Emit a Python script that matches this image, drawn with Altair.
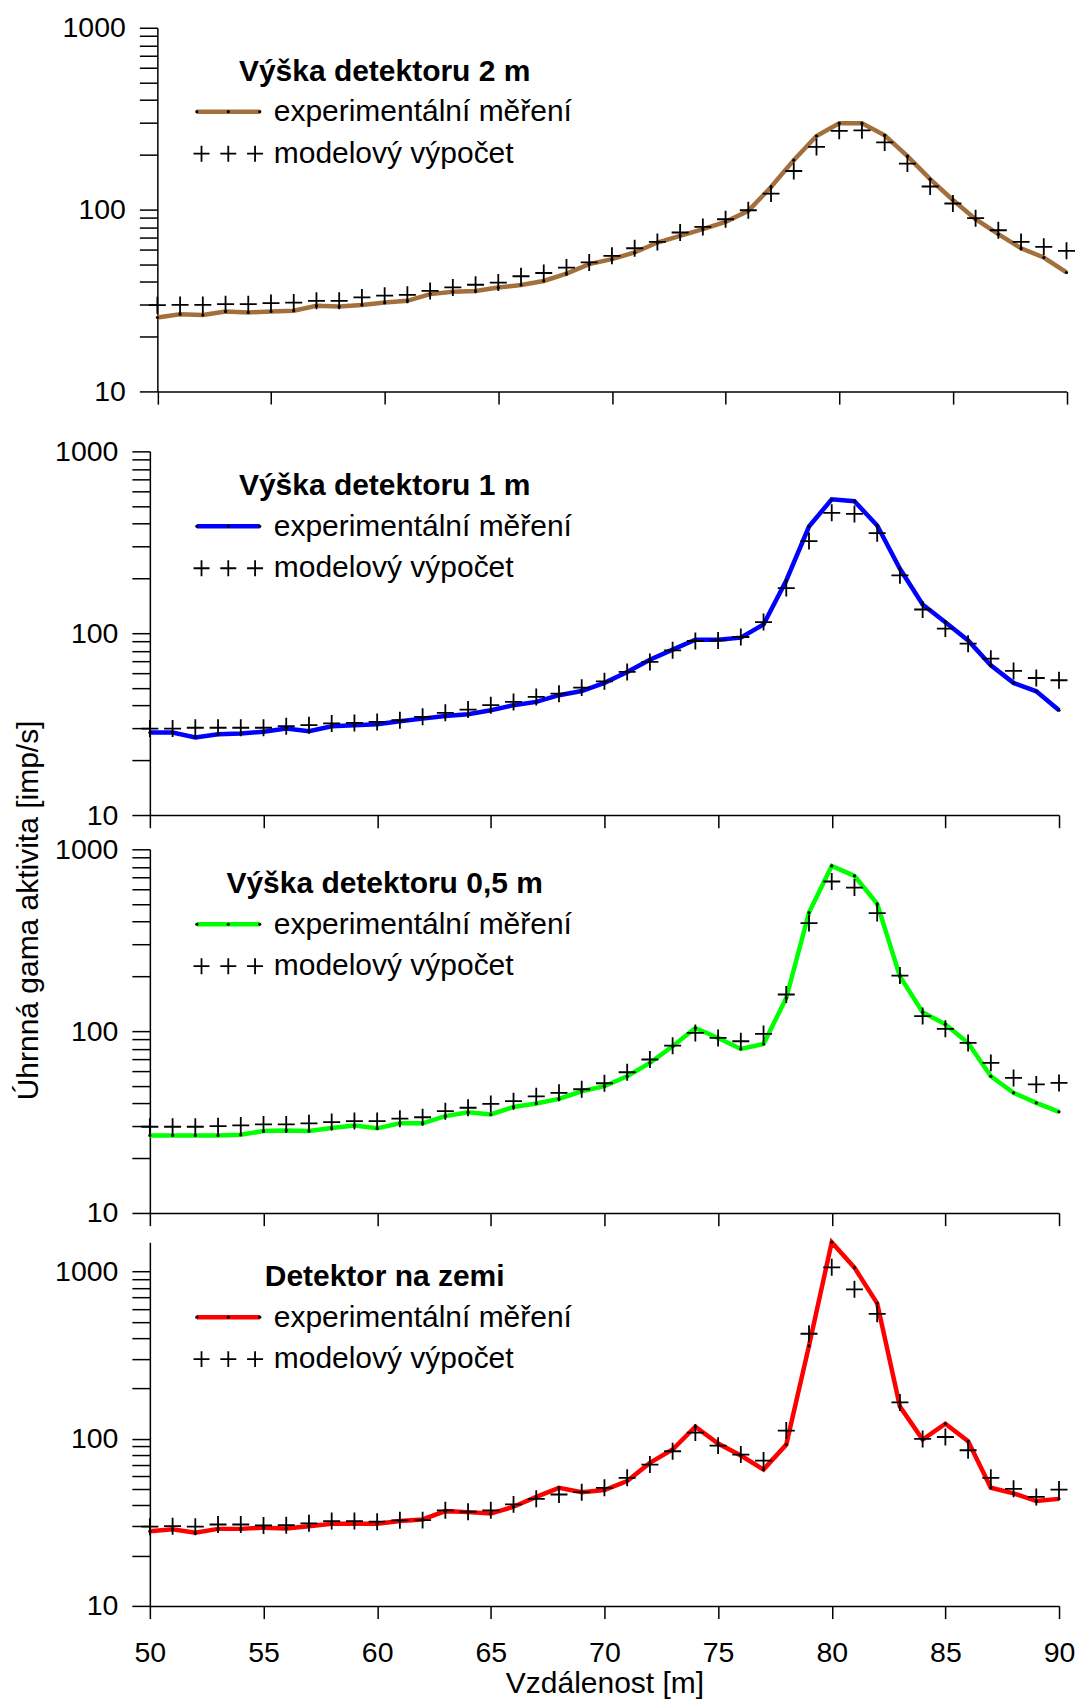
import altair as alt
import pandas as pd

FONT = "Liberation Sans"

distance = list(range(50, 91))

exp_2m = [25.5, 26.6, 26.3, 27.5, 27.2, 27.5, 27.8, 29.6, 29.3, 29.9, 30.8, 31.5, 34.3, 35.3, 35.7, 37.3,
          38.5, 40.5, 44.5, 50.1, 53.4, 58.1, 65.9, 71.7, 78.0, 85.6, 98.4, 133, 187, 254, 298, 298,
          256, 197, 147, 113, 88.5, 73.2, 61.3, 54.5, 45.1]
mod_2m = [29.8, 29.9, 29.9, 30.2, 30.2, 30.6, 30.8, 31.5, 31.5, 32.9, 33.6, 34.0, 35.7, 37.3, 38.6, 39.7,
          43.0, 44.8, 48.0, 51.2, 55.7, 61.3, 66.4, 74.8, 80.3, 88.5, 99.2, 122.5, 163, 221, 271, 273,
          234, 179, 134, 108, 89.7, 77, 66.4, 62.4, 59.3]

exp_1m = [28.4, 28.4, 26.7, 27.8, 28.1, 28.7, 29.9, 28.9, 30.8, 31.2, 31.6, 32.8, 33.9, 35.0, 35.8, 37.7,
          40.2, 41.9, 45.6, 48.1, 53.3, 61.2, 71.5, 81.2, 92.1, 92.1, 94.5, 111.8, 195, 386, 545, 532,
          391, 226, 144, 115, 91.3, 66.6, 53.3, 47.9, 37.7]
mod_1m = [29.9, 29.9, 30.2, 30.2, 30.2, 30.2, 30.8, 31.2, 31.9, 32.1, 32.5, 33.2, 34.7, 36.5, 38.0, 40.2,
          41.9, 44.6, 46.5, 50.2, 54.4, 61.2, 69.5, 80.5, 90.6, 91.3, 95.3, 115.2, 177, 321, 459, 453,
          355, 208, 135, 106, 87.6, 72.4, 62, 56.7, 55.1]

exp_05m = [26.7, 26.7, 26.7, 26.7, 26.9, 28.2, 28.4, 28.2, 29.3, 30.3, 29.2, 31.1, 31.1, 34.1, 35.8, 34.8,
           38.3, 40.0, 42.4, 46.7, 49.8, 56.5, 66.9, 82.5, 104, 91.7, 79.8, 85.0, 152, 449, 810, 714,
           501, 200, 127, 109, 86.1, 56.5, 45.8, 40.3, 36.0]
mod_05m = [29.8, 29.8, 29.8, 30.0, 30.3, 30.7, 30.7, 31.1, 31.6, 32.0, 32.0, 33.0, 33.6, 36.3, 37.9, 39.8,
           41.2, 43.8, 45.8, 47.9, 51.7, 59.4, 69.8, 83.2, 97.7, 91.7, 88.0, 96.5, 159, 393, 665, 616,
           446, 202, 121, 103, 86.1, 66.9, 55.3, 50.9, 51.9]

exp_0m = [28.0, 28.7, 27.4, 28.9, 28.9, 29.4, 29.1, 30.0, 31.0, 31.0, 31.0, 32.2, 32.9, 36.9, 36.4, 35.7,
          39.2, 44.9, 50.9, 47.9, 49.3, 55.8, 71.7, 86.2, 118, 93.6, 79.4, 65.5, 92.3, 360, 1500, 1057,
          647, 156, 98.9, 123, 96.6, 50.9, 47.1, 42.4, 43.7]
mod_0m = [29.8, 30.0, 29.8, 30.7, 30.7, 30.3, 30.4, 31.2, 32.2, 32.2, 31.9, 32.5, 32.6, 37.3, 36.6, 37.3,
          40.5, 43.7, 46.4, 47.9, 50.9, 58.4, 70.1, 84.2, 109, 91.0, 80.4, 74.1, 112, 425, 1061, 784,
          559, 165, 99.8, 102.5, 85.4, 58.4, 50.2, 44.9, 49.7]

panel_titles = ["Výška detektoru 2 m", "Výška detektoru 1 m", "Výška detektoru 0,5 m", "Detektor na zemi"]
line_colors = ["#A3703D", "#0000FF", "#00FF00", "#FF0000"]
y_max = [1000, 1000, 1000, 1500]
label_exp = "experimentální měření"
label_mod = "modelový výpočet"
x_title = "Vzdálenost [m]"
y_title = "Úhrnná gama aktivita [imp/s]"
x_ticks = list(range(50, 91, 5))
y_ticks = [10, 20, 30, 40, 50, 60, 70, 80, 90, 100, 200, 300, 400, 500, 600, 700, 800, 900, 1000]

W, H = 910, 364
TICK_FS = 28.5
TEXT_FS = 30
PLUS = "M-1,0L1,0M0,-1L0,1"
PLUS3 = ("M-1.0875,0L-0.5875,0M-0.8375,-0.25L-0.8375,0.25"
         "M-0.25,0L0.25,0M0,-0.25L0,0.25"
         "M0.5875,0L1.0875,0M0.8375,-0.25L0.8375,0.25")
one_row = alt.Data(values=[{"k": 1}])


def panel(idx, exp, mod, shift=0.0, dy=0.0):
    df = pd.DataFrame({"d": distance, "exp": exp, "mod": mod})
    bottom = idx == 3
    xs = alt.Scale(domain=[50, 90], range=[shift, shift + W], nice=False, zero=False)
    ys = alt.Scale(type="log", domain=[10, y_max[idx]], nice=False)
    xaxis = alt.Axis(
        values=x_ticks, labels=bottom, tickSize=12.7, tickWidth=1.5, domainWidth=1.5,
        domainColor="black", tickColor="black", grid=False, labelFont=FONT, labelFontSize=TICK_FS,
        labelColor="black", labelPadding=20, labelFlush=False,
        title=x_title if bottom else None, titleFont=FONT, titleFontSize=TEXT_FS,
        titleFontWeight="normal", titleColor="black", titleX=W / 2, titleY=86.3,
        titleAlign="center", titleBaseline="alphabetic",
    )
    yaxis_kw = dict(
        values=y_ticks, format="d",
        labelExpr="(datum.value == 10 || datum.value == 100 || datum.value == 1000) ? datum.label : ''",
        tickSize=18, tickWidth=1.5, domainWidth=1.5, domainColor="black", tickColor="black",
        grid=False, labelFont=FONT, labelFontSize=TICK_FS, labelColor="black", labelPadding=14,
        labelOverlap=False, offset=-shift,
    )
    if idx == 2:
        yaxis_kw.update(title=y_title, titleFont=FONT, titleFontSize=TEXT_FS, titleFontWeight="normal",
                        titleColor="black", titleAngle=270, titleX=-112, titleY=60.7,
                        titleAlign="center", titleBaseline="alphabetic")
    else:
        yaxis_kw.update(title=None)
    yaxis = alt.Axis(**yaxis_kw)

    base = alt.Chart(df)
    line = base.mark_line(color=line_colors[idx], strokeWidth=4.5).encode(
        x=alt.X("d:Q", scale=xs, axis=xaxis),
        y=alt.Y("exp:Q", scale=ys, axis=yaxis),
    )
    dots = base.mark_point(shape="circle", filled=True, color="black", size=10, opacity=1).encode(
        x=alt.X("d:Q", scale=xs), y=alt.Y("exp:Q", scale=ys))
    crosses = base.mark_point(shape=PLUS, filled=False, stroke="black", strokeWidth=1.8,
                              size=289, opacity=1).encode(
        x=alt.X("d:Q", scale=xs), y=alt.Y("mod:Q", scale=ys))

    leg = alt.Chart(one_row)
    l_title = leg.mark_text(text=panel_titles[idx], font=FONT, fontSize=TEXT_FS, fontWeight="bold",
                            align="center", baseline="alphabetic", color="black").encode(
        x=alt.value(235), y=alt.value(43.8 + dy))
    l_line = leg.mark_rule(color=line_colors[idx], strokeWidth=4.5).encode(
        x=alt.value(47), x2=alt.value(110), y=alt.value(75 + dy))
    l_dots = [leg.mark_point(shape="circle", filled=True, color="black", size=10, opacity=1).encode(
        x=alt.value(px), y=alt.value(75 + dy)) for px in (47, 78.5, 110)]
    l_lab1 = leg.mark_text(text=label_exp, font=FONT, fontSize=TEXT_FS, align="left",
                           baseline="alphabetic", color="black").encode(
        x=alt.value(124), y=alt.value(84.5 + dy))
    l_plus = leg.mark_point(shape=PLUS3, filled=False, stroke="black", strokeWidth=1.8,
                            size=4096, opacity=1).encode(x=alt.value(78.5), y=alt.value(117 + dy))
    l_lab2 = leg.mark_text(text=label_mod, font=FONT, fontSize=TEXT_FS, align="left",
                           baseline="alphabetic", color="black").encode(
        x=alt.value(124), y=alt.value(126 + dy))

    return alt.layer(line, dots, crosses, l_title, l_line, *l_dots, l_lab1, l_plus, l_lab2).properties(
        width=W + shift, height=H)


p1 = panel(0, exp_2m, mod_2m, shift=7.5, dy=9)
p2 = panel(1, exp_1m, mod_1m)
p3 = panel(2, exp_05m, mod_05m)
p4 = panel(3, exp_0m, mod_0m)

inner2 = alt.vconcat(p3, p4, spacing=29.3, bounds="flush")
inner1 = alt.vconcat(p2, inner2, spacing=34.3, bounds="flush")
chart = alt.vconcat(p1, inner1, spacing=60, bounds="flush").properties(
    padding={"left": 13, "top": 13, "right": 0, "bottom": 0},
    background="white",
).configure_view(stroke=None)

chart.save("out.html", embed_options={"renderer": "svg", "actions": False})
